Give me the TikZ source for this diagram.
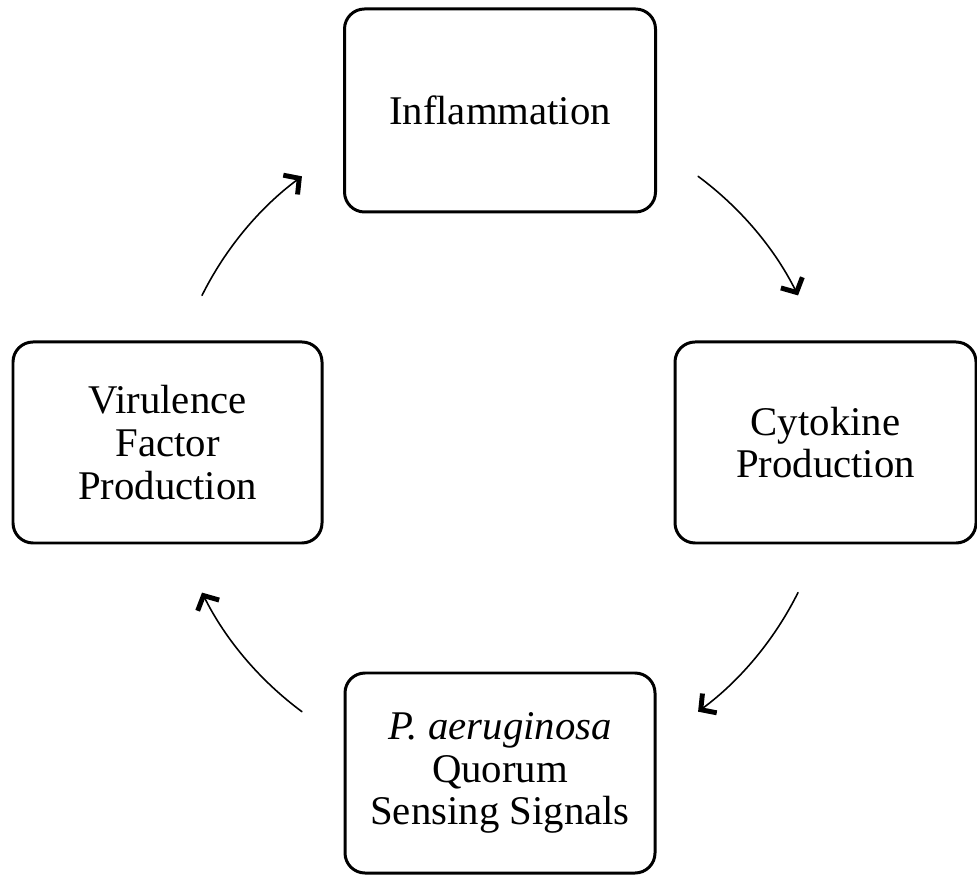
\documentclass[tikz,border=0pt]{standalone}
\usepackage{fontspec}
\setmainfont{Liberation Serif}
\usetikzlibrary{arrows.meta}
\newcommand{\stagefont}{\fontsize{11.6}{12.2}\selectfont}
\begin{document}
\begin{tikzpicture}[line cap=round,line join=round,
    >={Straight Barb[length=1.1mm,width=2.4mm,line width=1.4pt]},
    stage/.style={draw,line width=0.85pt,rounded corners=2mm,align=center,
      font=\stagefont,inner sep=0pt},
    cyc/.style={line width=0.45pt,->}]
  \useasboundingbox (0,0) rectangle (9.77,-8.76);
  \node[stage,minimum width=3.11cm,minimum height=2.03cm] (infl) at (5.00,-1.105) {Inflammation};
  \node[stage,minimum width=3.01cm,minimum height=2.01cm] (cyto) at (8.255,-4.425) {Cytokine\\Production};
  \node[stage,minimum width=3.10cm,minimum height=2.00cm] (qs) at (5.00,-7.73) {\textit{P. aeruginosa}\\Quorum\\Sensing Signals};
  \node[stage,minimum width=3.09cm,minimum height=2.01cm] (viru) at (1.675,-4.425) {Virulence\\Factor\\Production};
  \coordinate (o) at (5.00,-4.44);
  \draw[cyc] (o) ++(53.5:3.33) arc[start angle=53.5,end angle=26.5,radius=3.33];
  \draw[cyc] (o) ++(-26.5:3.33) arc[start angle=-26.5,end angle=-53.5,radius=3.33];
  \draw[cyc] (o) ++(-126.5:3.33) arc[start angle=-126.5,end angle=-153.5,radius=3.33];
  \draw[cyc] (o) ++(153.5:3.33) arc[start angle=153.5,end angle=126.5,radius=3.33];
\end{tikzpicture}
\end{document}
